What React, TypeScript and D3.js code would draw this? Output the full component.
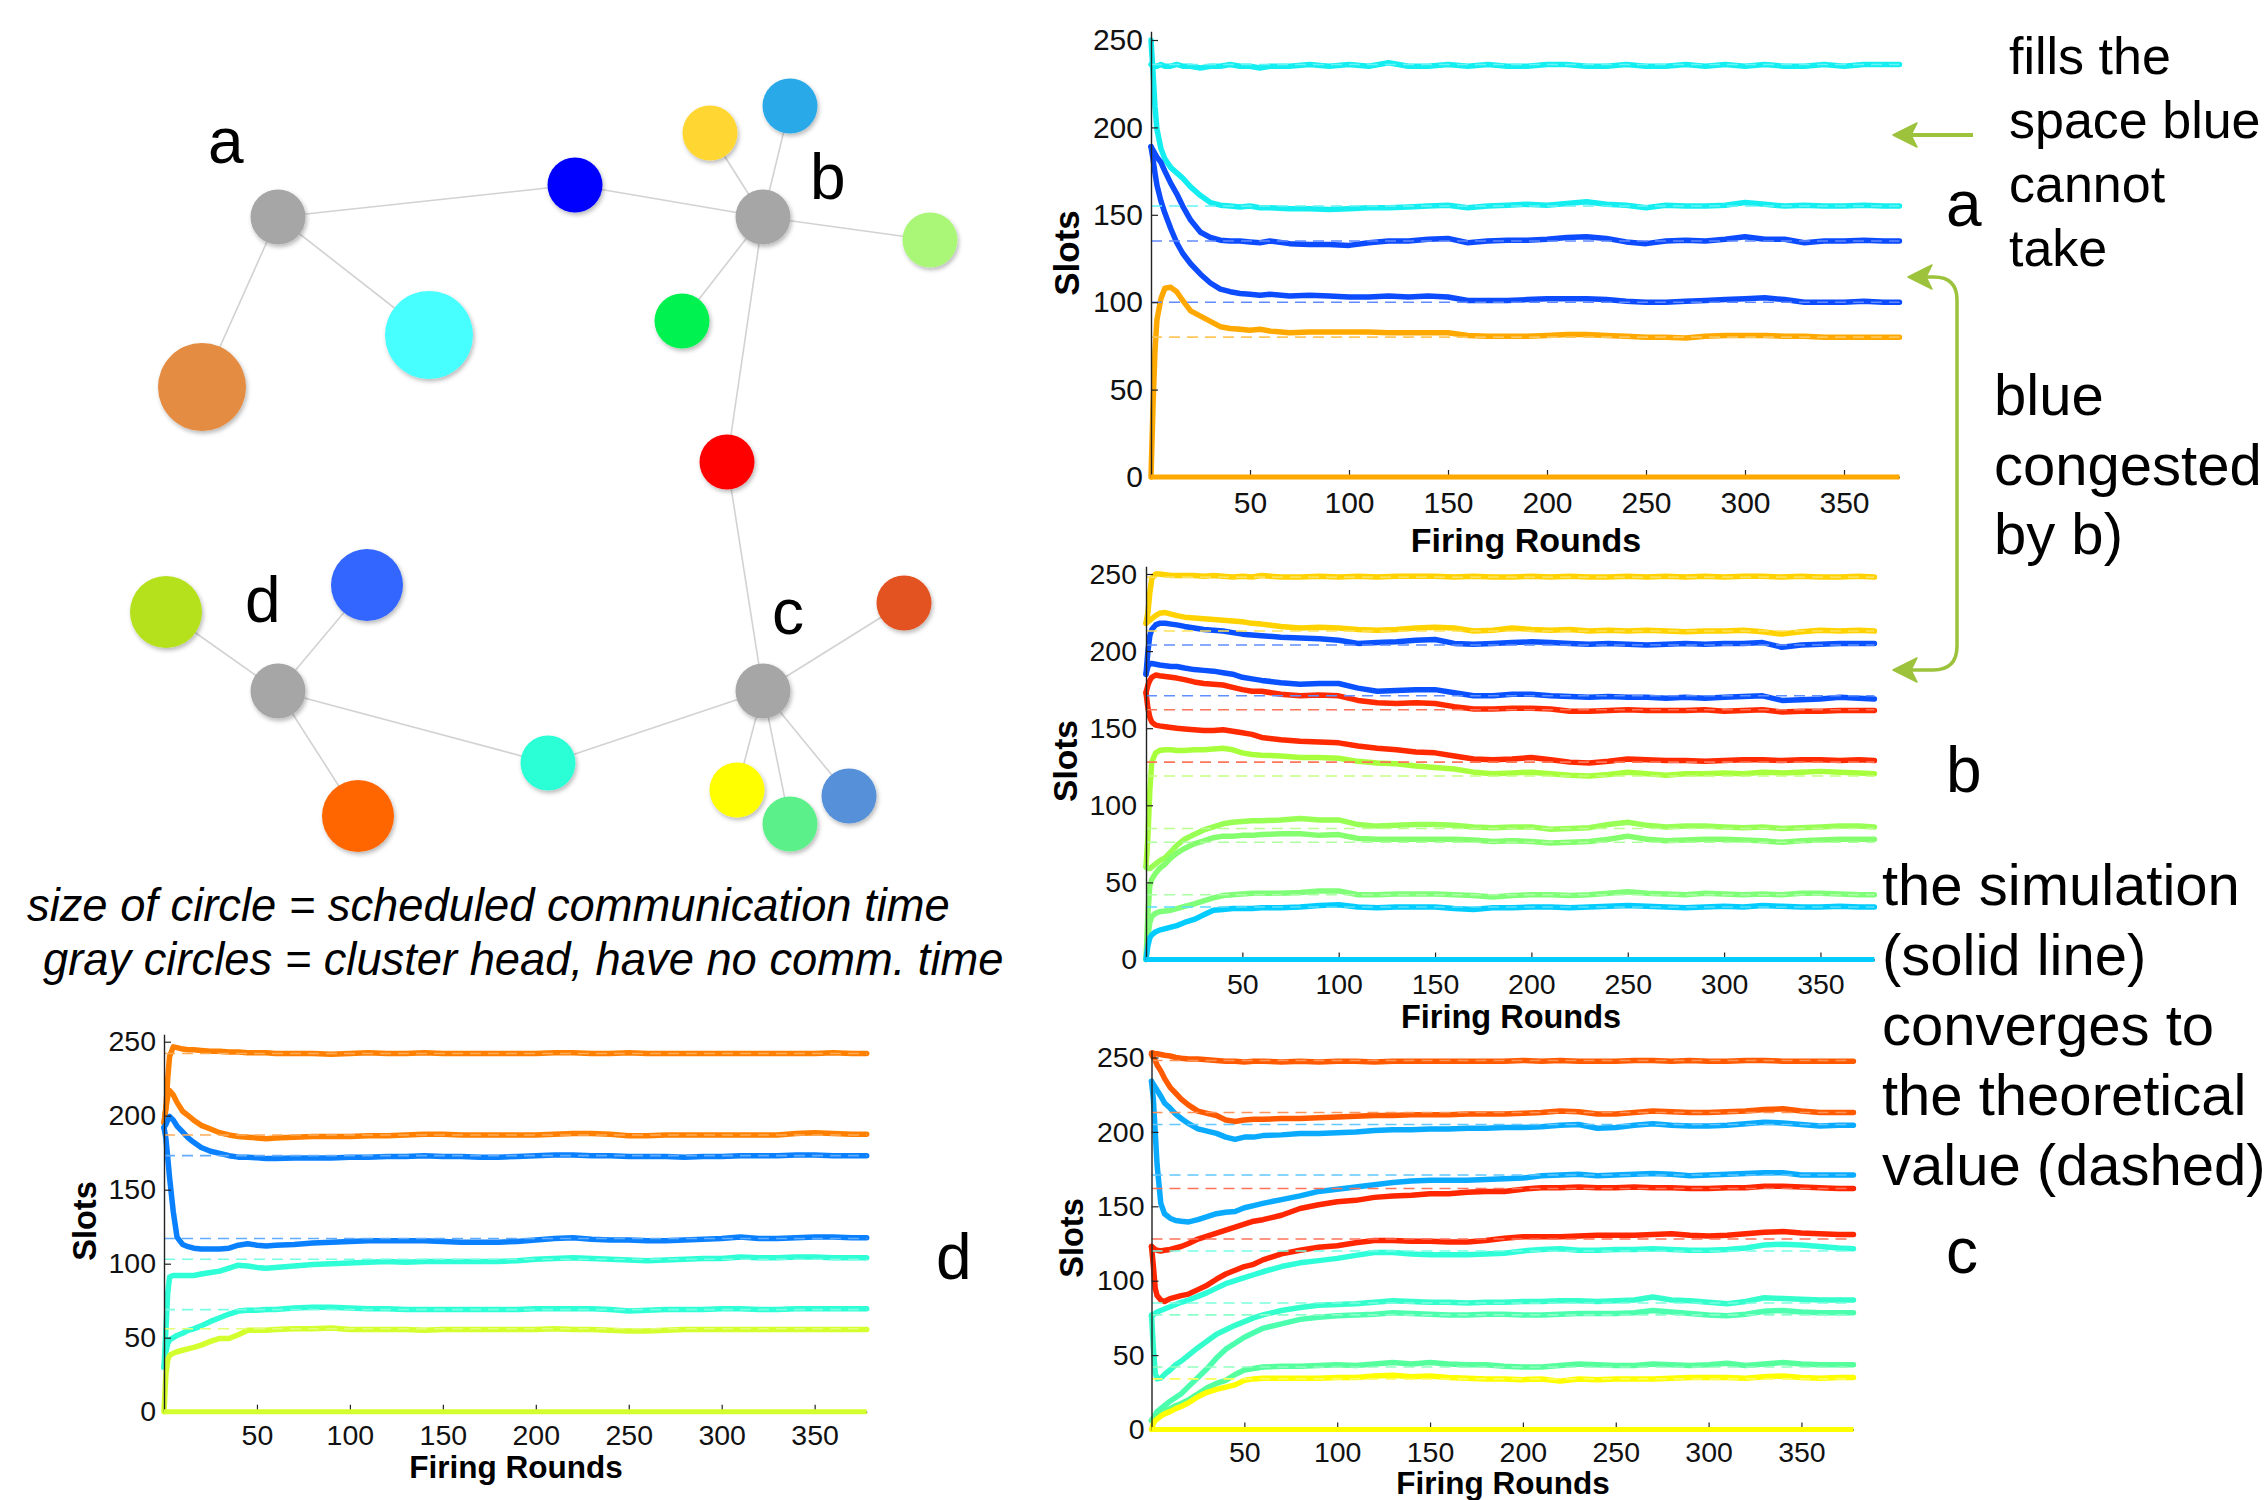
import React, { useEffect, useRef } from "react";
import * as d3 from "d3";

// Slot allocation per cluster: simulation (solid) vs theory (dashed), plus the network sketch

const FONT = "'Liberation Sans', Arial, Helvetica, sans-serif";

const ROUNDS = [
  0, 1, 2, 3, 5, 7, 10, 13, 16, 20,
  25, 30, 35, 40, 45, 50, 55, 60, 70, 80,
  90, 100, 110, 120, 130, 140, 150, 160, 170, 180,
  190, 200, 210, 220, 230, 240, 250, 260, 270, 280,
  290, 300, 310, 320, 330, 340, 350, 360, 370, 378,
];
const X_TICKS = [50, 100, 150, 200, 250, 300, 350];
const Y_TICKS = [0, 50, 100, 150, 200, 250];

// ---- cluster a
const a1 = [
  236, 235, 235, 235, 236, 235, 235, 236, 235, 235,
  234, 235, 235, 236, 235, 235, 234, 235, 235, 236,
  235, 236, 235, 237, 235, 235, 236, 235, 236, 235,
  235, 236, 236, 235, 235, 236, 235, 235, 236, 235,
  236, 235, 236, 235, 235, 236, 235, 236, 236, 236,
];
const a2 = [
  250, 232, 212, 199, 188, 182, 177, 174, 171, 166,
  161, 157, 155.5, 155, 154.5, 155, 154, 154, 153.5, 153.5,
  153, 153.5, 154, 154, 154.5, 155, 155.5, 154, 155, 155.5,
  156, 155.5, 156.5, 157.5, 156, 155.5, 154, 155.5, 155, 155,
  155.5, 157, 156, 155, 155.5, 155, 155, 155.5, 155, 155,
];
const a3 = [
  189, 187, 185, 183, 180, 175, 168, 162, 155, 147,
  140, 137, 135.5, 135, 135, 134.5, 134, 135, 133.5, 133,
  133, 132.5, 134, 135, 135, 136, 136.5, 134, 135, 135.5,
  135.5, 136, 137, 137.5, 136.5, 134.5, 133.5, 135, 135.5, 135,
  136, 137.5, 136, 136, 134, 135, 135, 135.5, 135, 135,
];
const a4 = [
  189, 182, 174, 167, 158, 151, 142, 134, 128, 122,
  116, 111, 107.5, 106, 105, 104.5, 104, 104.5, 103.5, 104,
  103.5, 103, 103, 103.5, 103, 103.5, 103, 101, 101, 101,
  101.5, 102, 102, 102, 101.5, 100.5, 100, 100, 100.5, 101,
  101.5, 102, 102.5, 101.5, 100, 100, 100, 100.5, 100, 100,
];
const a5 = [
  0, 40, 72, 90, 102, 108, 108.5, 106, 101, 95,
  92, 89, 86, 85, 84.5, 84, 84.5, 83.5, 82.5, 83,
  83, 83, 83, 82.5, 82.5, 82.5, 82.5, 81, 80.5, 80.5,
  80.5, 81, 81.5, 81.5, 81, 80.5, 80, 80, 79.5, 80.5,
  81, 81, 81, 80.5, 80.5, 80, 80, 80, 80, 80,
];
const A_THEORY = [236, 155, 135, 100, 80];
const A_COLORS = ["#14EEF0", "#14EEF0", "#0D4BFF", "#0D4BFF", "#FFA800"];

// ---- cluster b
const b1 = [
  218, 225, 238, 247, 250, 250, 249.5, 249, 249, 249,
  249, 248.5, 249, 248.5, 248, 248.5, 248, 249, 248, 248,
  248.5, 248, 248.5, 248, 248.5, 248.5, 248.5, 248, 248.5, 248,
  248, 248.5, 248, 248.5, 248, 248, 248.5, 248, 248.5, 248,
  248.5, 248, 248.5, 248.5, 248, 248.5, 248, 248, 248.5, 248,
];
const b2 = [
  218, 219, 220, 221, 223, 224.5, 225, 224, 223, 222,
  221.5, 221, 220.5, 220, 219.5, 219, 218, 217.5, 216, 215,
  215.5, 215, 214, 213.5, 214, 215, 215.5, 215, 213, 213.5,
  215, 214, 213.5, 214, 213, 213.5, 213, 213.5, 213, 212.5,
  213, 213, 213.5, 212.5, 211, 212.5, 213.5, 213, 213.5, 213,
];
const b3 = [
  185, 200, 210, 214, 217, 218, 218, 217.5, 217, 216,
  215, 214, 213.5, 213, 212, 211, 210.5, 210, 209, 208.5,
  208, 207, 205, 205.5, 206, 207, 207.5, 205, 204.5, 205,
  205.5, 206, 205.5, 205, 204.5, 205, 204.5, 204, 204.5, 205,
  204.5, 205, 205, 205.5, 202.5, 204, 204.5, 205, 205, 205,
];
const b4 = [
  185, 190, 192, 192, 191.5, 191, 190.5, 190, 190, 189,
  188, 187.5, 187, 186, 185, 183, 182, 181, 179.5, 178.5,
  179, 179, 176, 174, 174.5, 175, 175, 173, 171, 171,
  172, 172, 171, 170.5, 170, 170.5, 170, 170, 169.5, 170,
  169.5, 170, 170.5, 171, 168, 168.5, 169, 170, 169.5, 169,
];
const b5 = [
  173, 178, 181, 183, 184.5, 184, 183.5, 183, 182.5, 181.5,
  180, 179, 178.5, 178, 176.5, 175, 174, 174, 172, 171,
  171.5, 171, 168, 166.5, 166, 166.5, 166, 164, 162.5, 162.5,
  163, 163, 162.5, 161, 161, 161.5, 162, 161.5, 161.5, 161.5,
  162, 161, 161.5, 162, 160.5, 161, 161, 161.5, 161.5, 161.5,
];
const b6 = [
  173, 163, 157, 154, 152, 151.5, 151, 150.5, 150, 149.5,
  149, 148.5, 148.5, 149, 148, 147, 146, 144, 142.5, 141.5,
  141, 140.5, 138.5, 137, 136, 134.5, 134, 132, 130, 129.5,
  130, 131, 129.5, 128, 127.5, 128.5, 130, 129.5, 129, 129,
  128.5, 129, 129.5, 129.5, 129, 129.5, 129.5, 129, 129.5, 129,
];
const b7 = [
  60, 80, 110, 128, 134, 135.5, 136, 136, 135.5, 135.5,
  136, 136, 136.5, 137, 136, 134, 133, 132.5, 132, 131,
  131, 130.5, 128.5, 127.5, 127, 125.5, 124.5, 123.5, 121.5, 120.5,
  121, 121.5, 120.5, 119.5, 119, 120, 121.5, 120.5, 119.5, 120.5,
  120.5, 121, 120.5, 121.5, 121, 121.5, 122, 121.5, 121, 120.5,
];
const b8 = [
  60, 59, 59, 60, 62, 64, 66, 70, 74, 78,
  81, 84, 86, 88, 89, 89.5, 90, 90, 90.5, 91.5,
  90.5, 90.5, 87.5, 86.5, 87, 87.5, 87.5, 87, 86, 85.5,
  86, 86, 84.5, 85, 85.5, 87.5, 89, 87, 86, 86.5,
  86.5, 86, 85.5, 86, 85, 85.5, 86, 86.5, 86.5, 86,
];
const b9 = [
  0, 30, 48, 52, 56, 59, 62, 66, 69, 72,
  75, 77, 79, 80, 80, 80.5, 80.5, 81, 81.5, 81.5,
  80.5, 81, 78.5, 78, 78, 78, 78, 78, 77.5, 76.5,
  77, 76.5, 75.5, 76, 76.5, 78, 80, 78, 77, 77.5,
  78, 78, 77.5, 77, 76, 77, 77.5, 78, 78, 78,
];
const b10 = [
  0, 15, 24, 28, 30, 31, 31.5, 32, 33, 34.5,
  36, 38, 40, 41.5, 42, 42.5, 43, 43, 43, 43.5,
  44.5, 44.5, 42, 42, 42.5, 42.5, 42.5, 42, 41.5, 40.5,
  41.5, 42, 42, 41.5, 42, 43, 44, 43, 42.5, 42,
  43, 42.5, 42, 42.5, 42, 43, 43, 42.5, 42, 42,
];
const b11 = [
  0, 9, 14, 16, 18, 19, 20, 21, 22, 24,
  26, 29, 32, 32.5, 33, 33, 33, 33.5, 33.5, 34,
  35, 35.5, 34, 33.5, 34, 34, 34, 33, 32.5, 33.5,
  33.5, 34, 34, 33.5, 34, 34.5, 35, 34.5, 34, 33.5,
  34, 34.5, 34, 35, 34.5, 34, 34, 34.5, 34, 34,
];
const B_THEORY = [248, 213, 204, 171, 162, 128, 119, 85, 76, 42, 34];
const B_COLORS = [
  "#FFD200", "#FFD200", "#0A52FF", "#0A52FF", "#FF2A00", "#FF2A00",
  "#A8FF3C", "#98FF55", "#84FF6E", "#80FF78", "#00CCFF",
];

// ---- cluster c
const c1 = [
  253, 253, 252.5, 252.5, 252, 251.5, 251, 250, 249.5, 249,
  249, 248.5, 248, 247.5, 247.5, 247, 247.5, 247.5, 247, 247.5,
  247, 247.5, 247.5, 247, 247.5, 247.5, 247.5, 247.5, 247.5, 247.5,
  247.5, 248, 247.5, 248, 247.5, 247.5, 247.5, 248, 248, 247.5,
  248, 247.5, 247.5, 248, 248, 247.5, 247.5, 247.5, 247.5, 247.5,
];
const c2 = [
  252, 250, 248, 245, 241, 236, 230, 226, 222, 218,
  214, 212.5, 211, 208, 207, 208, 208.5, 208.5, 209, 209,
  209.5, 210, 210.5, 211, 211, 211.5, 211.5, 211.5, 212, 212,
  212, 212.5, 213, 214, 213.5, 212, 212, 213, 214, 213.5,
  213, 213, 213.5, 214, 215, 215.5, 214, 213, 213, 213,
];
const c3 = [
  234, 232, 230, 228, 224, 219.5, 216, 212, 209, 205.5,
  202, 200.5, 199, 196.5, 195, 196.5, 196.5, 197.5, 198, 199,
  199, 199.5, 200, 201, 201.5, 201.5, 202, 202, 202.5, 202.5,
  203, 203, 203.5, 204.5, 205, 202.5, 203, 204.5, 205.5, 204.5,
  204, 204, 204.5, 205.5, 206.5, 206, 205, 204, 204.5, 204.5,
];
const c4 = [
  234, 222, 200, 178, 152, 145, 142, 140.5, 140, 139.5,
  141, 143, 145, 146, 146.5, 149, 150.5, 152, 154.5, 157,
  160, 161.5, 163, 164.5, 166, 167, 167.5, 167.5, 167.5, 168,
  168.5, 169, 170.5, 171, 171.5, 170.5, 171, 171.5, 172, 171.5,
  170.5, 171, 171.5, 172, 172.5, 172.5, 171, 171, 171, 171,
];
const c5 = [
  123, 122, 121, 120.5, 120, 120.5, 121, 122, 123, 125,
  128, 130, 132, 134, 136, 138, 140, 141, 144, 148.5,
  151, 153, 154, 156, 157, 157.5, 158.5, 158.5, 159.5, 160,
  160, 161.5, 162.5, 162.5, 163, 162.5, 162.5, 163, 162.5, 162.5,
  162, 162, 162.5, 162.5, 163.5, 163.5, 163, 162.5, 162, 162,
];
const c6 = [
  123, 110, 95, 90, 87, 86, 88, 89, 90, 91,
  94, 97, 101, 104.5, 107, 109.5, 111, 114, 118, 120.5,
  122.5, 123.5, 125.5, 127, 127, 126.5, 126.5, 126, 126, 127,
  128.5, 129.5, 129.5, 129.5, 130, 130.5, 130.5, 130.5, 131, 131.5,
  130.5, 130, 130.5, 131.5, 132.5, 133, 132, 131.5, 131, 131,
];
const c7 = [
  76, 77, 78, 79, 80, 81, 82.5, 84, 85.5, 87,
  89.5, 92, 95, 98, 100, 102, 104, 106, 109.5, 112,
  113.5, 115, 117, 119, 119, 118, 117.5, 117.5, 117.5, 118,
  118.5, 120, 121, 121.5, 120.5, 120.5, 121, 121, 121.5, 121,
  120.5, 120.5, 121, 122, 124, 124.5, 124, 123, 122, 121.5,
];
const c8 = [
  77, 55, 38, 34, 34.5, 37, 40, 43.5, 46, 50,
  55, 59.5, 64, 67, 70, 72.5, 75, 77, 80, 82,
  83.5, 84, 84.5, 85.5, 86.5, 86, 85.5, 85.5, 85, 85.5,
  85.5, 86, 86, 86.5, 86.5, 86, 86.5, 87, 89, 87,
  86.5, 85.5, 84.5, 86, 88.5, 88, 87.5, 87, 87, 87,
];
const c9 = [
  6, 8, 10, 12, 14, 16, 19, 21.5, 24, 29,
  35, 41, 48, 54, 58, 62, 65, 68, 71, 74,
  75.5, 76.5, 77, 77.5, 78.5, 78, 77.5, 77, 77, 77.5,
  77.5, 77, 77, 77.5, 78, 78, 78, 78.5, 80, 79,
  78, 77, 76.5, 77.5, 79.5, 80, 79, 78.5, 78.5, 78.5,
];
const c10 = [
  6, 7, 8, 9, 11, 12.5, 14, 16, 17.5, 20,
  24, 28, 31, 33, 37, 40, 41, 42, 42.5, 42.5,
  43, 43.5, 43, 44, 45, 44, 45, 44, 43.5, 43.5,
  42.5, 42, 42, 43, 44, 43.5, 43, 43, 44, 43.5,
  43, 43.5, 44.5, 43, 44, 45, 44, 43.5, 43.5, 43.5,
];
const c11 = [
  0, 4, 6, 7, 9, 10.5, 12, 14, 15.5, 18,
  22, 25, 27, 28.5, 30, 33, 34, 34.5, 34.5, 34.5,
  34.5, 35, 35, 36, 36.5, 35.5, 36, 35, 34.5, 34,
  34, 33.5, 34, 32.5, 34, 33.5, 34, 34, 34, 34.5,
  35, 35, 35, 34.5, 35.5, 36, 35, 34.5, 35, 35,
];
const C_THEORY = [248, 213, 205, 171, 162, 128, 120, 85, 77, 42, 34];
const C_COLORS = [
  "#FF5A00", "#FF5A00", "#0AAAFF", "#0AAAFF", "#FF2600", "#FF2600",
  "#2EFFD8", "#34FFCC", "#4CFFAE", "#55FF9C", "#FFFF00",
];

// ---- cluster d
const d1 = [
  195, 205, 225, 240, 246.5, 246, 245, 244.5, 244.5, 244,
  243.5, 243.5, 243, 243, 242.5, 242.5, 242.5, 242, 242, 242,
  241.5, 242, 242.5, 242, 242, 242.5, 242, 242, 242, 242,
  242, 242, 242.5, 242.5, 242, 242, 242.5, 242, 242, 242,
  242, 242, 242, 242, 242, 242, 242, 242.5, 242, 242,
];
const d2 = [
  195, 205, 213, 217, 214, 209, 203, 200, 197, 193.5,
  191, 188.5, 187, 186, 185.5, 185, 184.5, 185, 185.5, 186,
  186, 186, 186.5, 186.5, 187, 187.5, 187.5, 187, 187, 187,
  187, 187, 187.5, 188, 188, 187.5, 186.5, 186.5, 187, 187,
  187, 187, 187, 187, 187, 188, 188.5, 188, 187.5, 187.5,
];
const d3s = [
  192, 194, 197, 199.5, 197, 193, 189, 185, 182, 178.5,
  176, 174.5, 173, 172, 172, 171.5, 171, 171, 171.5, 171.5,
  171.5, 172, 172, 172.5, 172.5, 173, 172.5, 172.5, 172, 172,
  172.5, 173, 173.5, 173.5, 173, 173, 172.5, 172.5, 172.5, 172,
  172.5, 172.5, 173, 173, 173, 173.5, 173.5, 173, 173, 173,
];
const d4 = [
  192, 185, 172, 158, 135, 118, 113, 111.5, 110.5, 110,
  110, 110, 110.5, 112.5, 113.5, 112.5, 112, 112.5, 113, 114,
  114.5, 115, 115.5, 115.5, 115.5, 115.5, 115, 114.5, 114.5, 114.5,
  115, 116, 117, 117.5, 116.5, 116, 116, 115.5, 115.5, 116,
  116.5, 117, 118, 117, 117, 117.5, 118, 118, 117.5, 117.5,
];
const d5 = [
  30, 55, 80, 91, 92, 92, 92, 92, 92, 93,
  94, 95, 97, 99, 98.5, 97.5, 97, 97.5, 98.5, 99.5,
  100, 100.5, 101, 101.5, 101, 101.5, 101.5, 101.5, 101.5, 101.5,
  102, 103, 103.5, 104, 103.5, 103, 102.5, 102, 102.5, 103,
  103.5, 103.5, 104.5, 104, 104, 104.5, 104.5, 104, 104, 104,
];
const d6 = [
  30, 40, 46, 48.5, 50, 51.5, 53, 55, 56, 58,
  61, 63.5, 66, 68, 68.5, 68.5, 69, 69, 70, 70.5,
  70.5, 70, 69.5, 69.5, 69, 69, 69, 69, 69, 69,
  69, 69.5, 69.5, 69.5, 69.5, 69, 68, 68.5, 69, 69,
  69, 69.5, 69.5, 69, 69, 69.5, 69.5, 69.5, 69.5, 69.5,
];
const d7 = [
  0, 25, 35, 38, 39.5, 40.5, 41.5, 42.5, 43.5, 45,
  47.5, 49.5, 49.5, 52, 55, 55, 55, 55.5, 56, 56,
  56.5, 55.5, 55.5, 55.5, 55.5, 55, 55.5, 55.5, 55.5, 55.5,
  55.5, 55.5, 56, 55.5, 55.5, 55, 54.5, 54.5, 55, 55.5,
  55.5, 55.5, 55.5, 55.5, 55.5, 55.5, 55.5, 55.5, 55.5, 55.5,
];
const D_THEORY = [242, 187, 173, 117, 103, 69, 56];
const D_COLORS = ["#FF8000", "#FF8000", "#0A80FF", "#0A80FF", "#2EFFD6", "#2EFFD6", "#D4FF2E"];

// ---- network sketch: [id, x, y, r, color]
const NODES: [string, number, number, number, string][] = [
  ["hA", 278, 217, 27.5, "#A6A6A6"],
  ["blue", 575, 185, 27.5, "#0000FF"],
  ["hB", 763, 217, 27.5, "#A6A6A6"],
  ["gold", 710, 133, 27.5, "#FFD633"],
  ["sky", 790, 106, 27.5, "#29A9E9"],
  ["lgreen", 930, 240, 27.5, "#AAF777"],
  ["green", 682, 321, 27.5, "#00F251"],
  ["cyan", 429, 335, 44, "#47FFFF"],
  ["brown", 202, 387, 44, "#E38C42"],
  ["red", 727, 462, 27.5, "#FF0000"],
  ["hC", 763, 691, 27.5, "#A6A6A6"],
  ["hD", 278, 691, 27.5, "#A6A6A6"],
  ["yg", 166, 612, 36, "#B5E01D"],
  ["blueD", 367, 585, 36, "#3366FF"],
  ["orangeD", 358, 816, 36, "#FF6600"],
  ["teal", 548, 763, 27.5, "#2BFFD5"],
  ["redOrange", 904, 603, 27.5, "#E35221"],
  ["yellow", 737, 790, 27.5, "#FFFF00"],
  ["greenC", 790, 824, 27.5, "#5CF08A"],
  ["blueC", 849, 796, 27.5, "#5590D9"],
];
const EDGES: [string, string][] = [
  ["hA", "blue"], ["blue", "hB"], ["hA", "cyan"], ["hA", "brown"],
  ["hB", "gold"], ["hB", "sky"], ["hB", "lgreen"], ["hB", "green"], ["hB", "red"],
  ["red", "hC"], ["hC", "redOrange"], ["hC", "teal"], ["hC", "yellow"],
  ["hC", "greenC"], ["hC", "blueC"], ["teal", "hD"], ["hD", "yg"],
  ["hD", "blueD"], ["hD", "orangeD"],
];

const PANELS = [
  {
    series: [a1, a2, a3, a4, a5], theory: A_THEORY, colors: A_COLORS, zero: "#FFA800",
    left: 1151, pxPerRound: 1.98, bottom: 477, pxPerSlot: 1.748,
    tickFont: 30, labelFont: 34, xPad: 15, yPad: 8,
    slots: [1066, 253], fr: [1526, 552],
  },
  {
    series: [b1, b2, b3, b4, b5, b6, b7, b8, b9, b10, b11], theory: B_THEORY, colors: B_COLORS, zero: "#00CCFF",
    left: 1146, pxPerRound: 1.927, bottom: 959.5, pxPerSlot: 1.542,
    tickFont: 28.5, labelFont: 32.5, xPad: 14, yPad: 9,
    slots: [1065, 761], fr: [1511, 1028],
  },
  {
    series: [c1, c2, c3, c4, c5, c6, c7, c8, c9, c10, c11], theory: C_THEORY, colors: C_COLORS, zero: "#FFFF00",
    left: 1151.5, pxPerRound: 1.857, bottom: 1429.5, pxPerSlot: 1.488,
    tickFont: 28.5, labelFont: 31.5, xPad: 12, yPad: 7,
    slots: [1072, 1238], fr: [1503, 1494],
  },
  {
    series: [d1, d2, d3s, d4, d5, d6, d7], theory: D_THEORY, colors: D_COLORS, zero: "#D4FF2E",
    left: 164, pxPerRound: 1.859, bottom: 1411.7, pxPerSlot: 1.48,
    tickFont: 28.5, labelFont: 31.5, xPad: 13.5, yPad: 8,
    slots: [85, 1221], fr: [516, 1478],
  },
];

function drawPanel(root, p) {
  const g = root.append("g");
  const x = d3.scaleLinear().domain([0, 378]).range([p.left, p.left + 378 * p.pxPerRound]);
  const y = d3.scaleLinear().domain([0, 255]).range([p.bottom, p.bottom - 255 * p.pxPerSlot]);

  const line = d3.line<number>()
    .x((_, i) => x(ROUNDS[i]))
    .y(d => y(d));

  g.append("g")
    .selectAll("path")
    .data(p.series)
    .join("path")
    .attr("d", d => line(d))
    .attr("fill", "none")
    .attr("stroke", (_, i) => p.colors[i])
    .attr("stroke-width", 5.5)
    .attr("stroke-linejoin", "round")
    .attr("stroke-linecap", "round");

  // theoretical values, dashed, drawn over the simulation
  g.append("g")
    .selectAll("line")
    .data(p.theory)
    .join("line")
    .attr("x1", x(0))
    .attr("x2", x(378))
    .attr("y1", d => y(d))
    .attr("y2", d => y(d))
    .attr("stroke", (_, i) => d3.interpolateRgb(p.colors[i], "#ffffff")(0.35))
    .attr("stroke-width", 1.6)
    .attr("stroke-dasharray", "11 7");

  const yAxis = g.append("g")
    .attr("transform", `translate(${x(0)},0)`)
    .call(d3.axisLeft(y).tickValues(Y_TICKS).tickSize(-7).tickSizeOuter(0).tickPadding(p.yPad));
  const xAxis = g.append("g")
    .attr("transform", `translate(0,${y(0)})`)
    .call(d3.axisBottom(x).tickValues(X_TICKS).tickSize(-7).tickSizeOuter(0).tickPadding(p.xPad));

  [yAxis, xAxis].forEach(ax => {
    ax.attr("font-family", FONT).attr("font-size", p.tickFont);
    ax.selectAll("text").attr("fill", "#111");
    ax.selectAll("line").attr("stroke", "#222").attr("stroke-width", 1.2);
    ax.select(".domain").attr("stroke", "#222").attr("stroke-width", 1.4);
  });

  // the cluster head sits at zero for the whole run
  g.append("line")
    .attr("x1", x(0))
    .attr("x2", x(378))
    .attr("y1", y(0))
    .attr("y2", y(0))
    .attr("stroke", p.zero)
    .attr("stroke-width", 5);

  g.append("text")
    .attr("transform", `translate(${p.slots[0]},${p.slots[1]}) rotate(-90)`)
    .attr("text-anchor", "middle")
    .attr("dominant-baseline", "central")
    .attr("font-family", FONT)
    .attr("font-weight", "bold")
    .attr("font-size", p.labelFont + 1)
    .text("Slots");

  g.append("text")
    .attr("x", p.fr[0])
    .attr("y", p.fr[1])
    .attr("text-anchor", "middle")
    .attr("font-family", FONT)
    .attr("font-weight", "bold")
    .attr("font-size", p.labelFont)
    .text("Firing Rounds");
}

function drawNetwork(root) {
  const defs = root.append("defs");
  defs.append("filter")
    .attr("id", "shadow")
    .attr("x", "-30%").attr("y", "-30%").attr("width", "160%").attr("height", "160%")
    .append("feDropShadow")
    .attr("dx", 1.5).attr("dy", 2.5).attr("stdDeviation", 2)
    .attr("flood-color", "#000").attr("flood-opacity", 0.28);

  const pos = new Map(NODES.map(n => [n[0], n]));
  const g = root.append("g");
  g.selectAll("line")
    .data(EDGES)
    .join("line")
    .attr("x1", d => pos.get(d[0])[1])
    .attr("y1", d => pos.get(d[0])[2])
    .attr("x2", d => pos.get(d[1])[1])
    .attr("y2", d => pos.get(d[1])[2])
    .attr("stroke", "#D2D2D2")
    .attr("stroke-width", 1.6);
  g.selectAll("circle")
    .data(NODES)
    .join("circle")
    .attr("cx", d => d[1])
    .attr("cy", d => d[2])
    .attr("r", d => d[3])
    .attr("fill", d => d[4])
    .attr("filter", "url(#shadow)");

  const letters: [string, number, number][] = [["a", 208, 163], ["b", 810, 199], ["c", 772, 634], ["d", 245, 622]];
  g.selectAll("text.lbl")
    .data(letters)
    .join("text")
    .attr("x", d => d[1])
    .attr("y", d => d[2])
    .attr("font-family", FONT)
    .attr("font-size", 64)
    .text(d => d[0]);

  const notes: [string, number, number][] = [
    ["size of circle = scheduled communication time", 27, 921],
    ["gray circles = cluster head, have no comm. time", 43, 975],
  ];
  g.selectAll("text.note")
    .data(notes)
    .join("text")
    .attr("x", d => d[1])
    .attr("y", d => d[2])
    .attr("font-family", FONT)
    .attr("font-style", "italic")
    .attr("font-size", 45.3)
    .text(d => d[0]);
}

function drawAnnotations(root) {
  const g = root.append("g").attr("font-family", FONT);
  const green = "#9DC23C";

  const block = (lines: string[], x: number, y0: number, step: number, size: number) => {
    lines.forEach((t, i) => {
      g.append("text").attr("x", x).attr("y", y0 + i * step).attr("font-size", size).text(t);
    });
  };
  block(["fills the", "space blue", "cannot", "take"], 2009, 74, 64, 52);
  block(["blue", "congested", "by b)"], 1994, 415, 69.5, 58);
  block(["the simulation", "(solid line)", "converges to", "the theoretical", "value (dashed)"], 1882, 905, 70, 58);
  block(["a"], 1946, 226, 0, 64);
  block(["b"], 1946, 792, 0, 64);
  block(["c"], 1946, 1273, 0, 64);
  block(["d"], 936, 1279, 0, 64);

  const head = (tx: number, ty: number) => {
    g.append("path")
      .attr("d", `M${tx},${ty} L${tx + 24},${ty - 12} L${tx + 18},${ty} L${tx + 24},${ty + 12} Z`)
      .attr("fill", green)
      .attr("stroke", green)
      .attr("stroke-width", 1.5)
      .attr("stroke-linejoin", "round");
  };

  g.append("line")
    .attr("x1", 1973).attr("y1", 135).attr("x2", 1905).attr("y2", 135)
    .attr("stroke", green).attr("stroke-width", 4);
  head(1893, 135);

  g.append("path")
    .attr("d", "M1918,277 L1934,277 Q1957,277 1957,300 L1957,646 Q1957,670 1933,670 L1905,670")
    .attr("fill", "none")
    .attr("stroke", green)
    .attr("stroke-width", 3.5);
  head(1908, 277);
  head(1893, 670);
}

const App = () => {
  const svgRef = useRef<SVGSVGElement>(null);

  useEffect(() => {
    const svg = d3.select(svgRef.current);
    svg.selectAll("*").remove();
    svg.append("rect").attr("width", 2266).attr("height", 1500).attr("fill", "#fff");
    drawNetwork(svg);
    PANELS.forEach(p => drawPanel(svg, p));
    drawAnnotations(svg);
  }, []);

  return (
    <svg
      ref={svgRef}
      width={2266}
      height={1500}
      style={{ position: "absolute", left: 0, top: 0, display: "block" }}
    />
  );
};

export default App;
